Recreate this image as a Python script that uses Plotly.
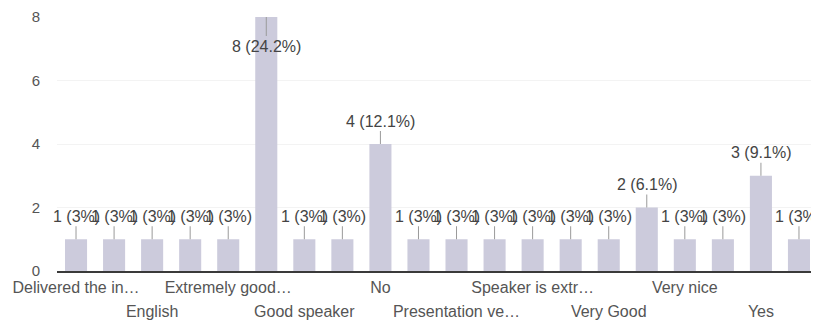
import plotly.graph_objects as go

# ---- data ----
tick_labels = ["Delivered the in…", "", "English", "", "Extremely good…", "",
               "Good speaker", "", "No", "", "Presentation ve…", "",
               "Speaker is extr…", "", "Very Good", "", "Very nice", "", "Yes", ""]
counts = [1, 1, 1, 1, 1, 8, 1, 1, 4, 1, 1, 1, 1, 1, 1, 2, 1, 1, 3, 1]
total_responses = 33
y_ticks = [0, 2, 4, 6, 8]

BAR = "#cccbdc"
TXT = "#555555"
FONT = "Liberation Sans, Arial, sans-serif"

idx = list(range(len(counts)))

def fmt(v):
    p = round(100 * v / total_responses, 1)
    s = ("%.1f" % p).rstrip("0").rstrip(".")
    return f"{v} ({s}%)"

row1 = [i for i in idx if tick_labels[i] and (i // 2) % 2 == 0]
row2 = [i for i in idx if tick_labels[i] and (i // 2) % 2 == 1]

fig = go.Figure()
fig.add_bar(x=idx, y=counts, marker_color=BAR, marker_line_width=0,
            hoverinfo="skip", xaxis="x", yaxis="y")
fig.add_bar(x=idx, y=counts, marker_color="rgba(0,0,0,0)", marker_line_width=0,
            hoverinfo="skip", xaxis="x2", yaxis="y")

for i, v in zip(idx, counts):
    ay = 29 if v == max(counts) else -23
    fig.add_annotation(x=i, y=v, xref="x", yref="y", text=fmt(v),
                       showarrow=True, arrowhead=0, arrowwidth=1,
                       arrowcolor="#9a9a9a", ax=0, ay=ay,
                       font=dict(family=FONT, size=16, color="#444444"))

xr = [-0.5, len(counts) - 0.5]
fig.update_layout(
    width=811, height=318,
    margin=dict(l=49, r=1, t=9, b=55),
    paper_bgcolor="white", plot_bgcolor="white",
    showlegend=False, bargap=0.42,
    font=dict(family=FONT, size=16, color=TXT),
    xaxis=dict(range=xr, tickmode="array", tickvals=row1,
               ticktext=[tick_labels[i] for i in row1], tickangle=0,
               showgrid=False, zeroline=False, showline=True,
               linecolor="#3a3a3a", linewidth=1.5, ticks="",
               tickfont=dict(family=FONT, size=16, color=TXT),
               ticklabelstandoff=1),
    xaxis2=dict(range=xr, overlaying="x", anchor="y", side="bottom",
                tickmode="array", tickvals=row2,
                ticktext=[tick_labels[i] for i in row2], tickangle=0,
                showgrid=False, zeroline=False, showline=False, ticks="",
                tickfont=dict(family=FONT, size=16, color=TXT),
                ticklabelstandoff=29),
    yaxis=dict(range=[0, 8], tickmode="array", tickvals=y_ticks,
               showgrid=True, gridcolor="#f3f3f3", zeroline=False,
               showline=False, ticks="",
               tickfont=dict(family=FONT, size=15, color=TXT),
               ticklabelstandoff=16),
)

fig.write_html("out.html")
